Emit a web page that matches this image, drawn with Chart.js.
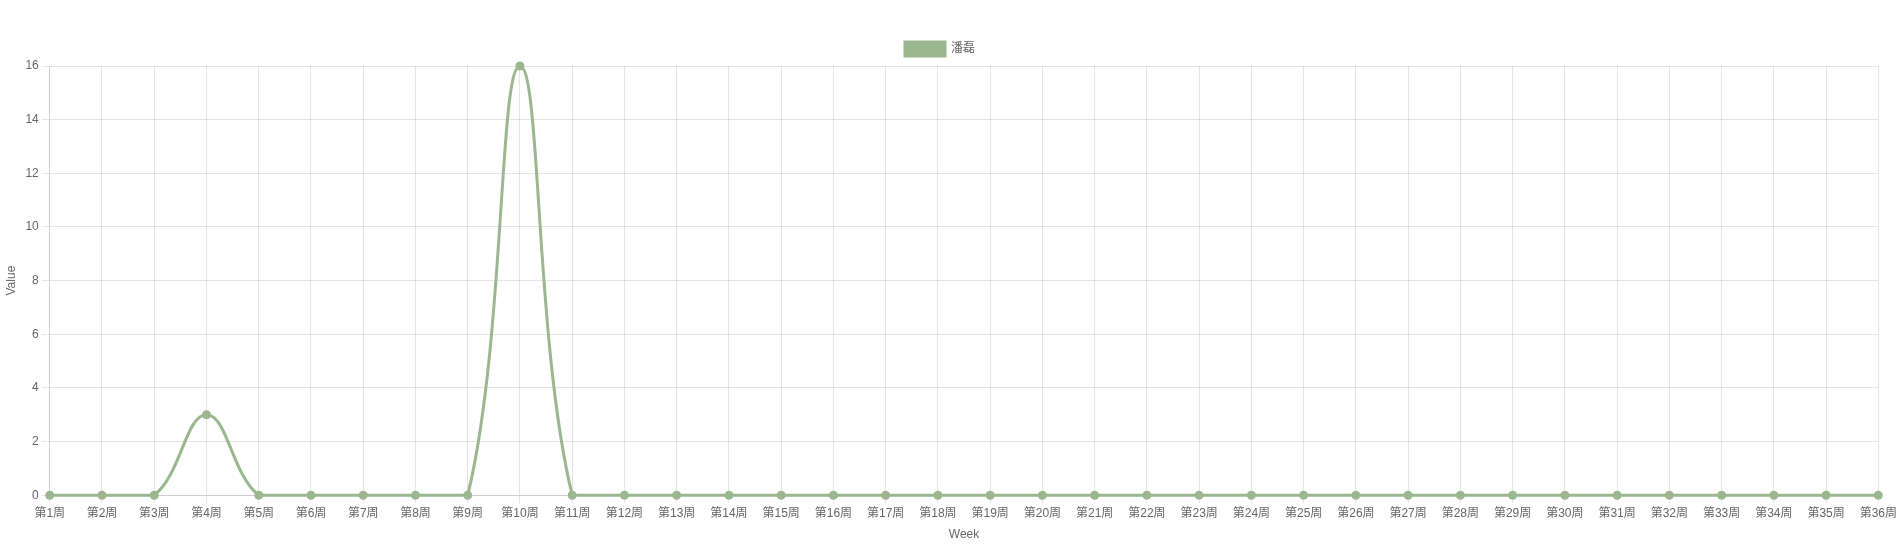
<!DOCTYPE html>
<html>
<head>
<meta charset="utf-8">
<script src="https://cdn.jsdelivr.net/npm/chart.js@4"></script>
<style>
html, body { margin: 0; padding: 0; background: #fff; }
#wrap { width: 1900px; height: 550px; }
</style>
</head>
<body>
<div id="wrap"><canvas id="weekChart"></canvas></div>
<script>
// --- data ---
const weekLabels = [];
for (let i = 1; i <= 36; i++) weekLabels.push('第' + i + '周');
const seriesName = '潘磊';
const seriesValues = [0, 0, 0, 3, 0, 0, 0, 0, 0, 16, 0, 0, 0, 0, 0, 0, 0, 0,
                      0, 0, 0, 0, 0, 0, 0, 0, 0, 0, 0, 0, 0, 0, 0, 0, 0, 0];

const green = 'rgba(155, 183, 143, 1)';
Chart.defaults.font.family = '"Liberation Sans", Arial, "Noto Sans CJK SC", sans-serif';
Chart.defaults.font.size = 12;
Chart.defaults.color = '#666';

new Chart(document.getElementById('weekChart').getContext('2d'), {
    type: 'line',
    data: {
        labels: weekLabels,
        datasets: [{
            label: seriesName,
            data: seriesValues,
            borderColor: green,
            backgroundColor: green,
            borderWidth: 3,
            pointRadius: 3,
            pointBackgroundColor: green,
            tension: 0.4,
            fill: false,
            clip: false
        }]
    },
    options: {
        responsive: true,
        maintainAspectRatio: false,
        animation: false,
        layout: { padding: { top: 32, right: 20, left: 0, bottom: 4 } },
        scales: {
            x: {
                title: { display: true, text: 'Week' },
                ticks: { maxRotation: 0, autoSkip: false },
                grid: { color: 'rgba(0,0,0,0.1)' }
            },
            y: {
                beginAtZero: true,
                max: 16,
                ticks: { stepSize: 2 },
                title: { display: true, text: 'Value' },
                grid: { color: 'rgba(0,0,0,0.1)' }
            }
        },
        plugins: {
            legend: { labels: { boxWidth: 40, boxHeight: 14 } }
        }
    }
});
</script>
</body>
</html>
